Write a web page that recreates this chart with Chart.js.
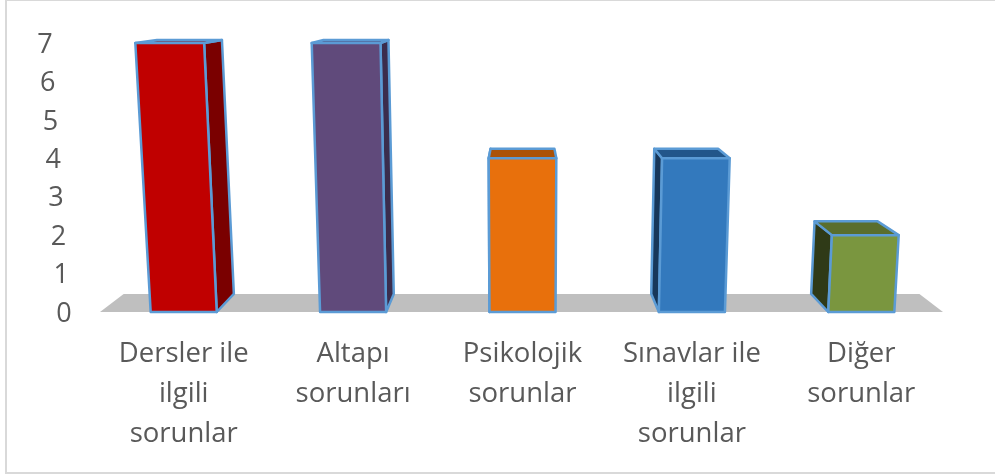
<!DOCTYPE html>
<html>
<head>
<meta charset="utf-8">
<title>Sorunlar</title>
<script src="https://cdn.jsdelivr.net/npm/chart.js@4"></script>
<style>
    html, body { margin: 0; padding: 0; background: #fff; overflow: hidden; }
    canvas { display: block; }
</style>
</head>
<body>
<canvas id="chart" width="995" height="475"></canvas>
<script>
// Dữ liệu biểu đồ
const categories = [
    ['Dersler ile', 'ilgili', 'sorunlar'],
    ['Altapı', 'sorunları'],
    ['Psikolojik', 'sorunlar'],
    ['Sınavlar ile', 'ilgili', 'sorunlar'],
    ['Diğer', 'sorunlar']
];
const values = [7, 7, 4, 4, 2];
const yTicks = [0, 1, 2, 3, 4, 5, 6, 7];

// Màu các mặt của cột
const frontColors = ['#c00000', '#604a7b', '#e8700c', '#3379bd', '#7a963f'];
const sideColors = ['#7a0000', '#3b2d4d', '#8a4106', '#17375a', '#2f3a17'];
const topColors = ['#8f0000', '#4a3960', '#ab5207', '#22568a', '#5a6e2d'];
const edgeColor = '#5b9bd5';

// Phối cảnh: các cột nghiêng dần và thu về điểm tụ
const LEAN = 0.0059;
const DEPTH = 0.056;
const VANISH_Y = -11;

const lean = (x, value, vx) => vx + (x - vx) * (1 + LEAN * value);
const back = (p, vx) => ({
    x: p.x + (vx - p.x) * DEPTH,
    y: p.y + (VANISH_Y - p.y) * DEPTH
});

function fillPoly(ctx, points, color) {
    ctx.beginPath();
    points.forEach((p, i) => i ? ctx.lineTo(p.x, p.y) : ctx.moveTo(p.x, p.y));
    ctx.closePath();
    ctx.fillStyle = color;
    ctx.fill();
    ctx.stroke();
}

const perspectivePlugin = {
    id: 'perspective',
    // Khung ngoài và mặt sàn
    beforeDatasetsDraw(chart) {
        const { ctx, scales: { x, y } } = chart;
        const vx = (x.left + x.right) / 2;
        const base = y.getPixelForValue(0);
        ctx.save();
        ctx.strokeStyle = '#d9d9d9';
        ctx.lineWidth = 2;
        ctx.strokeRect(6, 0, 1200, 473);
        const a = { x: x.left + 1, y: base };
        const b = { x: x.right - 3, y: base };
        ctx.beginPath();
        ctx.moveTo(a.x, a.y);
        ctx.lineTo(b.x, b.y);
        ctx.lineTo(back(b, vx).x, back(b, vx).y);
        ctx.lineTo(back(a, vx).x, back(a, vx).y);
        ctx.closePath();
        ctx.fillStyle = '#bfbfbf';
        ctx.fill();
        ctx.restore();
    },
    // Vẽ từng cột theo vị trí trên trục
    afterDatasetsDraw(chart) {
        const { ctx, scales: { x } } = chart;
        const vx = (x.left + x.right) / 2;
        ctx.save();
        ctx.strokeStyle = edgeColor;
        ctx.lineWidth = 2.5;
        ctx.lineJoin = 'round';
        chart.getDatasetMeta(0).data.forEach((bar, i) => {
            const half = bar.width / 2;
            const value = values[i];
            const bl = { x: bar.x - half, y: bar.base };
            const br = { x: bar.x + half, y: bar.base };
            const tl = { x: lean(bar.x - half, value, vx), y: bar.y };
            const tr = { x: lean(bar.x + half, value, vx), y: bar.y };
            if (bar.x < vx) {
                fillPoly(ctx, [tr, back(tr, vx), back(br, vx), br], sideColors[i]);
            } else {
                fillPoly(ctx, [tl, back(tl, vx), back(bl, vx), bl], sideColors[i]);
            }
            fillPoly(ctx, [tl, back(tl, vx), back(tr, vx), tr], topColors[i]);
            fillPoly(ctx, [tl, tr, br, bl], frontColors[i]);
        });
        ctx.restore();
    },
    // Nhãn trục y cũng nghiêng theo phối cảnh
    afterLayout(chart) {
        const { x, y } = chart.scales;
        const vx = (x.left + x.right) / 2;
        y.getLabelItems(chart.chartArea).forEach(item => {
            const value = Number(item.label);
            item.options.translation[0] = lean(64, value, vx);
            item.options.translation[1] += 2;
            item.options.textAlign = 'center';
        });
    }
};

new Chart(document.getElementById('chart').getContext('2d'), {
    type: 'bar',
    data: {
        labels: categories,
        datasets: [{
            data: values,
            backgroundColor: 'transparent',
            borderWidth: 0,
            barPercentage: 0.78,
            categoryPercentage: 0.5
        }]
    },
    options: {
        responsive: false,
        animation: false,
        layout: { padding: { left: 0, top: 43, right: 49, bottom: 0 } },
        plugins: {
            legend: { display: false },
            tooltip: { enabled: false }
        },
        scales: {
            x: {
                grid: { display: false },
                border: { display: false },
                ticks: {
                    color: '#595959',
                    maxRotation: 0,
                    autoSkip: false,
                    padding: 14,
                    font: { family: 'Open Sans', size: 27.5, lineHeight: 1.45 }
                },
                afterFit: scale => { scale.height = 163; }
            },
            y: {
                min: 0,
                max: 7,
                afterBuildTicks: scale => {
                    scale.ticks = yTicks.map(value => ({ value }));
                },
                grid: { display: false },
                border: { display: false },
                ticks: {
                    color: '#595959',
                    font: { family: 'Open Sans', size: 27 }
                },
                afterFit: scale => { scale.width = 99; }
            }
        }
    },
    plugins: [perspectivePlugin]
});
</script>
</body>
</html>
